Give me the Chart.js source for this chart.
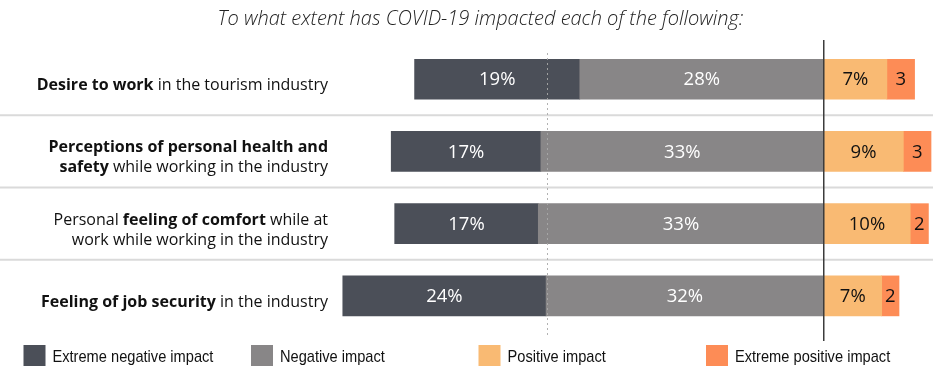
<!DOCTYPE html>
<html><head><meta charset="utf-8">
<script src="https://cdn.jsdelivr.net/npm/chart.js@4/dist/chart.umd.min.js"></script>
<style>html,body{margin:0;padding:0;background:#fff}#wrap{width:939px;height:376px;position:relative}</style>
</head><body><div id="wrap"><canvas id="c"></canvas></div>
<script>
const categories = [
  "Desire to work in the tourism industry",
  "Perceptions of personal health and safety while working in the industry",
  "Personal feeling of comfort while at work while working in the industry",
  "Feeling of job security in the industry"
];
// tick labels: lines of [text, bold] segments
const tickLabelLines = [
  [[["Desire to work", true], [" in the tourism industry", false]]],
  [[["Perceptions of personal health and", true]], [["safety", true], [" while working in the industry", false]]],
  [[["Personal ", false], ["feeling of comfort", true], [" while at", false]], [["work while working in the industry", false]]],
  [[["Feeling of job security", true], [" in the industry", false]]]
];
const seriesNames = ["Extreme negative impact", "Negative impact", "Positive impact", "Extreme positive impact"];
const extremeNegative = [19.1, 17.3, 16.6, 23.5];
const negative = [28.2, 32.7, 33.0, 32.1];
const positive = [7.3, 9.2, 10.0, 6.7];
const extremePositive = [3.2, 3.2, 2.1, 2.0];
const titleText = "To what extent has COVID-19 impacted each of the following:";

const COL = { exNeg: "#4b4f58", neg: "#888687", pos: "#f9ba73", exPos: "#fd8c56" };

const datasets = [
  { label: seriesNames[1], data: negative.map(v => -v), backgroundColor: COL.neg, suffix: "%", txt: "#ffffff" },
  { label: seriesNames[0], data: extremeNegative.map(v => -v), backgroundColor: COL.exNeg, suffix: "%", txt: "#ffffff" },
  { label: seriesNames[2], data: positive, backgroundColor: COL.pos, suffix: "%", txt: "#111111" },
  { label: seriesNames[3], data: extremePositive, backgroundColor: COL.exPos, suffix: "", txt: "#111111" }
];
datasets.forEach(d => { d.stack = "s"; d.barThickness = 40; d.borderWidth = 0; });
const legendOrder = [1, 0, 2, 3];

const deco = {
  id: "deco",
  beforeDatasetsDraw(chart) {
    const ctx = chart.ctx, y = chart.scales.y;
    ctx.save();
    ctx.strokeStyle = "#dadada"; ctx.lineWidth = 2;
    for (let i = 0; i < categories.length - 1; i++) {
      const yy = (y.getPixelForValue(i) + y.getPixelForValue(i + 1)) / 2;
      ctx.beginPath(); ctx.moveTo(0, yy); ctx.lineTo(933, yy); ctx.stroke();
    }
    ctx.restore();
  },
  afterDatasetsDraw(chart) {
    const ctx = chart.ctx, x = chart.scales.x, y = chart.scales.y;
    ctx.save();
    // dashed reference line
    const xd = x.getPixelForValue(-32);
    ctx.strokeStyle = "rgba(170,170,170,0.9)"; ctx.lineWidth = 1; ctx.setLineDash([2, 3]);
    ctx.beginPath(); ctx.moveTo(Math.round(xd) + 0.5, 53); ctx.lineTo(Math.round(xd) + 0.5, 336); ctx.stroke();
    ctx.setLineDash([]);
    // zero line
    const x0 = x.getPixelForValue(0);
    ctx.strokeStyle = "#3c3c3c"; ctx.lineWidth = 1.5;
    ctx.beginPath(); ctx.moveTo(x0, 40); ctx.lineTo(x0, 341); ctx.stroke();
    // bar value labels
    ctx.font = "18.5px 'Open Sans'"; ctx.textAlign = "center"; ctx.textBaseline = "middle";
    chart.data.datasets.forEach((ds, di) => {
      const meta = chart.getDatasetMeta(di);
      meta.data.forEach((bar, i) => {
        const v = Math.abs(ds.data[i]);
        ctx.fillStyle = ds.txt;
        ctx.fillText(Math.round(v) + ds.suffix, (bar.x + bar.base) / 2, bar.y + 1);
      });
    });
    // category labels
    ctx.textAlign = "left"; ctx.textBaseline = "alphabetic"; ctx.fillStyle = "#111";
    const right = 328;
    tickLabelLines.forEach((lines, i) => {
      const c = y.getPixelForValue(i);
      const n = lines.length;
      lines.forEach((segs, li) => {
        const base = c + 11 - (n - 1) * 10 + li * 20;
        let w = 0;
        const fonts = segs.map(s => (s[1] ? "bold " : "") + "16px 'Open Sans'");
        segs.forEach((s, k) => { ctx.font = fonts[k]; w += ctx.measureText(s[0]).width; });
        let xx = right - w;
        segs.forEach((s, k) => { ctx.font = fonts[k]; ctx.fillText(s[0], xx, base); xx += ctx.measureText(s[0]).width; });
      });
    });
    // legend
    ctx.textBaseline = "middle";
    legendOrder.forEach((di, k) => {
      const ds = chart.data.datasets[di];
      const lx = 23.5 + k * 227.5, ly = 356;
      ctx.fillStyle = ds.backgroundColor;
      ctx.fillRect(lx, ly - 11, 22, 21);
      ctx.fillStyle = "#111";
      ctx.font = "17px 'Liberation Sans'";
      ctx.save();
      ctx.translate(lx + 29, ly + 1);
      ctx.scale(0.86, 1);
      ctx.fillText(ds.label, 0, 0);
      ctx.restore();
    });
    ctx.restore();
  }
};

new Chart(document.getElementById("c"), {
  type: "bar",
  data: { labels: categories, datasets },
  options: {
    indexAxis: "y",
    responsive: true, maintainAspectRatio: false, animation: false,
    layout: { padding: { left: 26, right: 4, top: 0, bottom: 44 } },
    scales: {
      x: { stacked: true, min: -56.5, max: 12.86, display: false },
      y: { stacked: true, display: true, ticks: { display: false }, grid: { display: false }, border: { display: false },
           afterFit(s) { s.width = 309; } }
    },
    plugins: {
      legend: { display: false }, tooltip: { enabled: false },
      title: { display: true, text: titleText, color: "#222",
               font: { family: "'Open Sans'", size: 20, style: "italic", weight: "300", lineHeight: 1.2 },
               padding: { top: 7, bottom: 12.1 } }
    }
  },
  plugins: [deco]
});
</script></body></html>
